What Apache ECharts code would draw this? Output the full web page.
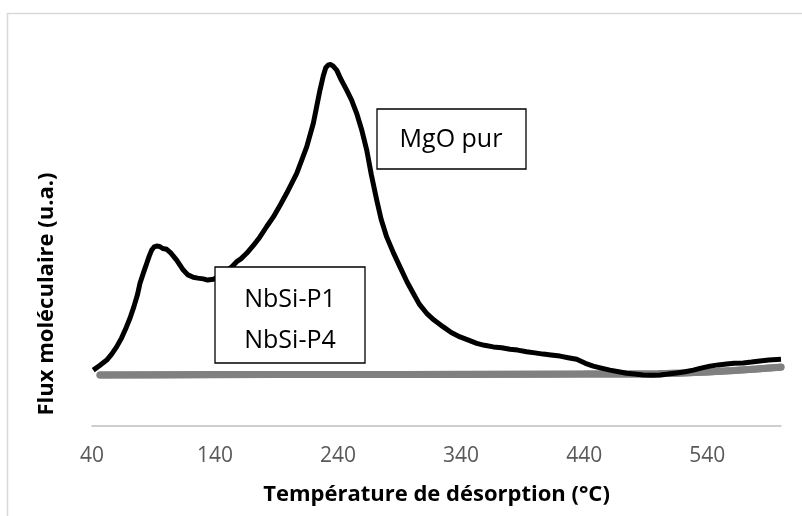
<!DOCTYPE html>
<html lang="fr">
<head>
    <meta charset="UTF-8">
    <title>Flux moléculaire</title>
    <script src="https://cdn.jsdelivr.net/npm/echarts@6/dist/echarts.min.js"></script>
    <style>
        html, body { margin: 0; padding: 0; background: #fff; }
        #chart { width: 802px; height: 516px; }
    </style>
</head>
<body>
    <div id="chart"></div>
    <script>
        // x ticks: 40, 140 ... 540 (axis ends at 600)
        const xMin = 40
        const xMax = 600
        const xStep = 100

        // MgO pur (black)
        const mgoTemp = [41, 46, 52, 56, 60, 64, 68, 71, 74, 77, 79, 82, 84.5, 86.5, 88.5, 90.5, 92.6, 95, 97.5, 100.7, 104, 108.8,
            114.2, 118, 122.3, 126, 130.5, 134, 138.6, 145.7, 153.5, 157.6, 161, 165.7, 171, 176.5, 182, 187.4, 193, 198.2,
            202, 206.4, 210, 214.5, 219.9, 222.5, 225.3, 228, 230, 232.1, 234, 236, 238.9, 242, 247, 251, 255.1, 259, 263.3,
            267, 271.4, 275, 279.5, 285, 290.3, 296, 301.1, 306, 312, 318, 325.5, 332, 339.1, 346, 352.7, 359, 366.2, 373,
            379.7, 386, 393.3, 400, 406.8, 413, 420.4, 427, 433.9, 441, 447.4, 454, 461, 468, 474.6, 481, 488.1, 495, 501.7,
            508, 515.2, 522, 528.7, 535, 542.3, 549, 555.8, 562, 569.3, 576, 582.9, 590, 600]
        const mgoFlux = [13.9, 15.0, 16.4, 17.9, 19.7, 21.9, 24.7, 27.0, 29.7, 32.8, 35.6, 38.4, 40.6, 42.4, 43.9, 44.7, 44.9, 44.8, 44.3, 44.1, 43.2, 41.4,
            38.9, 37.7, 37.1, 36.9, 36.7, 36.4, 36.6, 37.7, 39.7, 41.0, 41.7, 43.1, 45.0, 47.2, 49.8, 52.2, 55.2, 58.1,
            60.4, 63.1, 66.0, 69.7, 75.6, 79.6, 83.9, 87.5, 89.5, 90.2, 90.3, 89.9, 88.9, 86.8, 83.9, 81.4, 78.1, 74.2, 68.9,
            62.8, 56.4, 51.6, 47.2, 43.2, 39.7, 36.0, 33.1, 30.4, 28.1, 26.4, 24.7, 23.3, 22.2, 21.4, 20.6, 20.1, 19.7, 19.5,
            19.1, 18.9, 18.5, 18.2, 17.9, 17.7, 17.4, 17.0, 16.6, 15.6, 14.9, 14.4, 13.9, 13.5, 13.1, 12.9, 12.7, 12.6, 12.7,
            12.9, 13.2, 13.5, 13.9, 14.4, 14.9, 15.2, 15.4, 15.6, 15.7, 15.9, 16.2, 16.4, 16.6]

        // NbSi-P1 et NbSi-P4 (grey, overlapping near baseline)
        const nbsiTemp = [46.5, 90, 140, 190, 240, 290, 340, 390, 440, 480, 500, 520, 540, 560, 580, 600]
        const nbsiP1 = [12.7, 12.75, 12.8, 12.8, 12.8, 12.8, 12.85, 12.85, 12.9, 12.95, 13.0, 13.2, 13.45, 13.8, 14.2, 14.7]
        const nbsiP4 = [12.7, 12.7, 12.75, 12.8, 12.8, 12.8, 12.8, 12.85, 12.9, 12.9, 13.0, 13.15, 13.4, 13.75, 14.2, 14.6]

        function pairs(xs, ys) {
            return xs.map((x, i) => [x, ys[i]])
        }

        const font = '"Open Sans", "Noto Sans", sans-serif'

        var myChart = echarts.init(document.getElementById('chart'), null, { renderer: 'canvas' })
        var option = {
            animation: false,
            backgroundColor: '#ffffff',
            grid: { left: 92, right: 21, top: 25.7, bottom: 90.3 },
            xAxis: {
                type: 'value',
                min: xMin,
                max: xMax,
                interval: xStep,
                axisLine: { show: true, lineStyle: { color: '#bfbfbf', width: 1.5 } },
                axisTick: { show: false },
                splitLine: { show: false },
                axisLabel: {
                    color: '#595959',
                    fontFamily: font,
                    fontSize: 21,
                    margin: 20,
                    showMaxLabel: false
                },
                name: 'Température de désorption (°C)',
                nameLocation: 'middle',
                nameGap: 58,
                nameTextStyle: { color: '#000', fontFamily: font, fontWeight: 'bold', fontSize: 22 }
            },
            yAxis: {
                type: 'value',
                min: 0,
                max: 100,
                axisLine: { show: false },
                axisTick: { show: false },
                axisLabel: { show: false },
                splitLine: { show: false }
            },
            series: [
                {
                    name: 'NbSi-P1',
                    type: 'line',
                    showSymbol: false,
                    data: pairs(nbsiTemp, nbsiP1),
                    lineStyle: { color: '#7f7f7f', width: 7, cap: 'round' },
                    z: 2
                },
                {
                    name: 'NbSi-P4',
                    type: 'line',
                    showSymbol: false,
                    data: pairs(nbsiTemp, nbsiP4),
                    lineStyle: { color: '#808080', width: 7, cap: 'round' },
                    z: 2
                },
                {
                    name: 'MgO pur',
                    type: 'line',
                    showSymbol: false,
                    data: pairs(mgoTemp, mgoFlux),
                    lineStyle: { color: '#000000', width: 5, join: 'round' },
                    z: 3
                }
            ],
            graphic: [
                // chart frame
                {
                    type: 'rect', z: 0, silent: true,
                    shape: { x: 7.5, y: 13.5, width: 900, height: 600 },
                    style: { fill: null, stroke: '#d9d9d9', lineWidth: 1.5 }
                },
                // y axis title
                {
                    type: 'text', z: 10,
                    x: 47, y: 294, rotation: Math.PI / 2,
                    style: {
                        text: 'Flux moléculaire (u.a.)',
                        fill: '#000', font: 'bold 22px ' + font,
                        align: 'center', verticalAlign: 'middle'
                    }
                },
                // label boxes
                {
                    type: 'rect', z: 100,
                    shape: { x: 377, y: 109, width: 149, height: 60 },
                    style: { fill: '#fff', stroke: '#000', lineWidth: 1.3 }
                },
                {
                    type: 'text', z: 101,
                    x: 451, y: 140,
                    style: { text: 'MgO pur', fill: '#000', font: '25px ' + font, align: 'center', verticalAlign: 'middle' }
                },
                {
                    type: 'rect', z: 100,
                    shape: { x: 215, y: 267, width: 150, height: 96 },
                    style: { fill: '#fff', stroke: '#000', lineWidth: 1.3 }
                },
                {
                    type: 'text', z: 101,
                    x: 290, y: 300,
                    style: { text: 'NbSi-P1', fill: '#000', font: '25px ' + font, align: 'center', verticalAlign: 'middle' }
                },
                {
                    type: 'text', z: 101,
                    x: 290, y: 341,
                    style: { text: 'NbSi-P4', fill: '#000', font: '25px ' + font, align: 'center', verticalAlign: 'middle' }
                }
            ]
        }
        myChart.setOption(option)
    </script>
</body>
</html>
